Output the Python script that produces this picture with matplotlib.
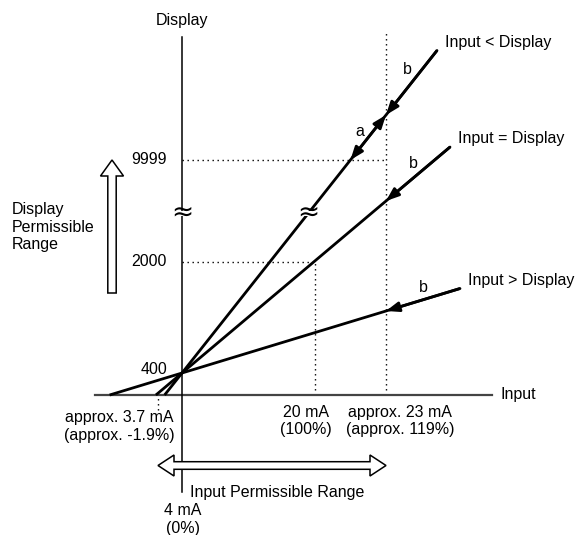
import matplotlib
matplotlib.use("Agg")
import matplotlib.pyplot as plt
from matplotlib.patches import Polygon, Rectangle
import numpy as np

plt.rcParams['font.family'] = ['Liberation Sans', 'DejaVu Sans']

# ---- schematic data (positions in diagram units, origin = 4 mA on input axis) ----
input_labels = ["approx. 3.7 mA\n(approx. -1.9%)", "4 mA\n(0%)", "20 mA\n(100%)",
                "approx. 23 mA\n(approx. 119%)"]
input_pos = [-24, 0, 133, 204]          # 3.7 mA, 4 mA, 20 mA, 23 mA
display_labels = ["400", "2000", "9999"]
display_pos = [22, 133, 235]            # 400, 2000, 9999
break_level = 182                       # "≈" break on the display axis

series_names = ["Input < Display", "Input = Display", "Input > Display"]
display_at_23mA = [280, 194, 84]        # display level reached at approx. 23 mA
series_end_x = [255, 268, 278]          # where each line is drawn to
series_label_pos = [(263, 352), (276, 257), (286, 114)]
b_label_pos = [(225, 326), (231, 232), (241, 107)]

x37, x4, x20, x23 = input_pos
y400, y2000, y9999 = display_pos

W, H = 577, 535
fig = plt.figure(figsize=(W / 100, H / 100), dpi=100)
ax = fig.add_axes([0, 0, 1, 1])
ax.set_xlim(-182, W - 182)
ax.set_ylim(395 - H, 395)
ax.axis('off')

FS = 11.5
dot = (0, (1, 2.6))

# axes
ax.plot([-87, 310], [0, 0], color='#444444', lw=1.6, zorder=2)
ax.plot([0, 0], [-97, 358], color='black', lw=1.1, zorder=2)
ax.text(318, 1, "Input", fontsize=FS, va='center', ha='left')
ax.text(0, 374, "Display", fontsize=FS, va='center', ha='center')

# dotted guide lines
ax.plot([0, x23], [y9999, y9999], color='black', lw=1, ls=dot, zorder=1)
ax.plot([0, x20], [y2000, y2000], color='black', lw=1, ls=dot, zorder=1)
ax.plot([x20, x20], [0, y2000], color='black', lw=1, ls=dot, zorder=1)
ax.plot([x23, x23], [0, 362], color='black', lw=1, ls=dot, zorder=1)
ax.plot([x37, x37], [-15, 0], color='black', lw=1, ls=dot, zorder=1)

# display tick labels
for lab, yv in zip(display_labels, display_pos):
    dy = 4 if lab == "400" else 0
    ax.text(-15, yv + dy, lab, fontsize=FS, ha='right', va='center')

# input tick labels
label_xy = {"approx. 3.7 mA\n(approx. -1.9%)": (-63, -31.5),
            "4 mA\n(0%)": (1, -124.5),
            "20 mA\n(100%)": (124, -26),
            "approx. 23 mA\n(approx. 119%)": (218, -26)}
for lab in input_labels:
    x, y = label_xy[lab]
    ax.text(x, y, lab, fontsize=FS, ha='center', va='center', linespacing=1.2)

# characteristic lines
head = "head_length=0.95,head_width=0.36"
arrow_kw = dict(arrowstyle="-|>," + head, lw=2,
                color='black', shrinkA=0, shrinkB=0, mutation_scale=8)
for name, yd, xe, lp, bp in zip(series_names, display_at_23mA, series_end_x,
                                series_label_pos, b_label_pos):
    slope = (yd - y400) / (x23 - x4)
    xs = -y400 / slope
    ax.plot([xs, xe], [0, y400 + slope * xe], color='black', lw=2,
            solid_capstyle='butt', zorder=3)
    ax.annotate("", xy=(x23, yd), xytext=(xe, y400 + slope * xe),
                arrowprops=arrow_kw, zorder=4)
    ax.text(lp[0], lp[1], name, fontsize=FS, ha='left', va='center')
    ax.text(bp[0], bp[1], "b", fontsize=FS, ha='center', va='center')
    if name == "Input < Display":
        xa = x4 + (y9999 - y400) / slope
        ax.annotate("", xy=(x23, yd), xytext=(xa, y9999),
                    arrowprops=dict(arrowstyle="<|-|>," + head,
                                    lw=2, color='black', shrinkA=0, shrinkB=0,
                                    mutation_scale=8), zorder=4)
        ax.text(178, 263, "a", fontsize=FS, ha='center', va='center')
        xb = x4 + (break_level - y400) / slope
        ax.add_patch(Rectangle((xb - 9, break_level - 2.5), 18, 5,
                               facecolor='white', edgecolor='none', zorder=5))
        ax.text(xb, break_level, "≈", fontsize=19, ha='center', va='center',
                zorder=6, family='DejaVu Sans')

# break on display axis
ax.add_patch(Rectangle((-9, break_level - 2.5), 18, 5,
                       facecolor='white', edgecolor='none', zorder=5))
ax.text(0, break_level, "≈", fontsize=19, ha='center', va='center', zorder=6,
        family='DejaVu Sans')


def hollow_arrow(p0, p1, shaft_hw, head_hw, head_len, double=False):
    p0 = np.asarray(p0, float)
    p1 = np.asarray(p1, float)
    d = p1 - p0
    L = np.hypot(*d)
    u = d / L
    n = np.array([-u[1], u[0]])
    pts = []
    if double:
        b0 = p0 + u * head_len
        pts += [p0, b0 + n * head_hw, b0 + n * shaft_hw]
    else:
        pts += [p0 + n * shaft_hw]
    b1 = p1 - u * head_len
    pts += [b1 + n * shaft_hw, b1 + n * head_hw, p1, b1 - n * head_hw, b1 - n * shaft_hw]
    if double:
        pts += [b0 - n * shaft_hw, b0 - n * head_hw]
    else:
        pts += [p0 - n * shaft_hw]
    ax.add_patch(Polygon(pts, closed=True, facecolor='white', edgecolor='black',
                         lw=1.1, zorder=3, joinstyle='miter'))


# permissible ranges
hollow_arrow((-70, 102), (-70, y9999), 4.2, 11.5, 16)
ax.text(-170, 168, "Display\nPermissible\nRange", fontsize=FS, ha='left', va='center',
        linespacing=1.2)
hollow_arrow((x37, -70.5), (x23, -70.5), 3.8, 10.5, 16, double=True)
ax.text(8, -98, "Input Permissible Range", fontsize=FS, ha='left', va='center')

fig.savefig("out.png", dpi=100)
